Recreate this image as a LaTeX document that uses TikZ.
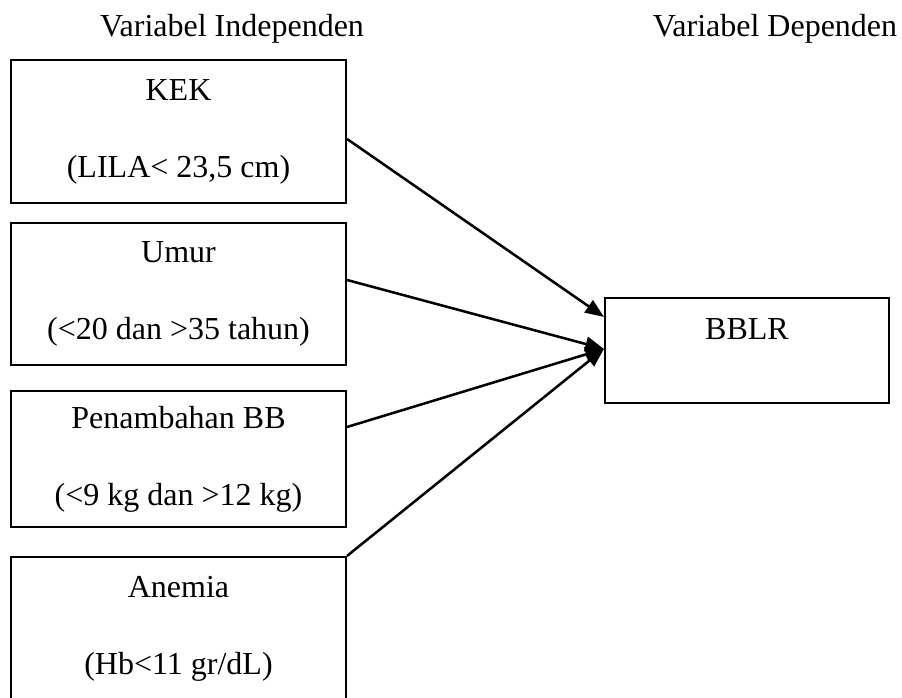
\documentclass[tikz,border=0pt]{standalone}
\usepackage{fontspec}
\setmainfont{Liberation Serif}
\usetikzlibrary{arrows.meta}

\begin{document}
\begin{tikzpicture}[x=0.375pt, y=-0.375pt,
    var/.style={draw=black, line width=0.8pt, minimum width=125.6pt,
      align=center, inner sep=0pt, font=\fontsize{12}{14}\selectfont},
    head/.style={anchor=base, inner sep=0pt, font=\fontsize{12}{14}\selectfont},
    link/.style={-{Triangle[length=7pt, width=5.5pt]}, line width=0.95pt, draw=black}]
\clip (0,0) rectangle (902,698);
\useasboundingbox (0,0) rectangle (902,698);
\node[head] (indep) at (232,37) {Variabel Independen};
\node[head] (dep) at (775,37) {Variabel Dependen};
\node[var, minimum height=53.6pt] (kek) at (178.5,131.5) {KEK\\[14.9pt](LILA< 23,5 cm)};
\node[var, minimum height=53.25pt] (umur) at (178.5,294) {Umur\\[14.9pt](<20 dan >35 tahun)};
\node[var, minimum height=51pt] (bb) at (178.5,459) {Penambahan BB\\[14.9pt](<9 kg dan >12 kg)};
\node[var, minimum height=54pt] (anemia) at (178.5,629) {Anemia\\[14.9pt](Hb<11 gr/dL)};
\node[var, minimum width=106.5pt, minimum height=39.4pt, text height=8pt, text depth=15.9pt]
  (bblr) at (747,350.5) {BBLR};
\draw[link] ([yshift=-2.8pt]kek.east) -- ([yshift=12.6pt]bblr.west);
\draw[link] ([yshift=5.25pt]umur.east) -- ([yshift=0.6pt]bblr.west);
\draw[link] ([yshift=12pt]bb.east) -- ([yshift=0.6pt]bblr.west);
\draw[link] (anemia.north east) -- ([yshift=0.6pt]bblr.west);
\end{tikzpicture}
\end{document}
